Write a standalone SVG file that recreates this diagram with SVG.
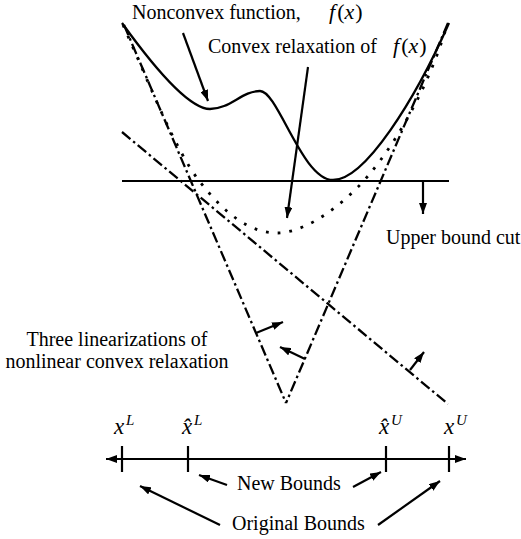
<svg xmlns="http://www.w3.org/2000/svg" width="521" height="539" viewBox="0 0 521 539" font-family="'Liberation Serif', 'DejaVu Serif', serif">
<style>
  text { font-family: "Liberation Serif", "DejaVu Serif", serif; font-size: 20px; fill: #000; }
  .m { font-style: italic; }
  .mx { font-style: italic; font-size: 23px; }
  .sup { font-style: italic; font-size: 15px; }
  .solid { fill: none; stroke: #000; stroke-width: 2.3; }
  .thin { fill: none; stroke: #000; stroke-width: 2.2; }
  .dd { fill: none; stroke: #000; stroke-width: 2.3; stroke-dasharray: 11 3.5 2.5 3.5; }
  .dot { fill: none; stroke: #000; stroke-width: 2.8; stroke-dasharray: 2.8 9; }
  .arr { fill: none; stroke: #000; stroke-width: 2.2; marker-end: url(#ah); }
</style>
<defs>
  <marker id="ah" markerUnits="userSpaceOnUse" markerWidth="11" markerHeight="8" refX="11" refY="4" orient="auto-start-reverse">
    <path d="M0,0 L11,4 L0,8 z" fill="#000"/>
  </marker>
</defs>
<rect width="521" height="539" fill="#fff"/>

<g id="curves">
  <path id="nonconvex" class="solid" d="M122,23 C140,48 185,109 210,109 C230,109 242,91 260,91 C278,91 302,180 333,180 C365,180 415,100 449,23"/>
  <path id="relaxation" class="dot" d="M123,25 C150,85 175,150 200,182 C225,214 250,233 277,233 C300,233 330,215 357,188 C384,161 425,100 447,25"/>
  <line id="upper-bound" class="thin" x1="122" y1="181" x2="449" y2="181"/>
  <line id="lin1" class="dd" x1="124" y1="25" x2="286" y2="403"/>
  <line id="lin2" class="dd" x1="448" y1="23" x2="286" y2="403"/>
  <line id="lin3" class="dd" x1="122" y1="132" x2="448" y2="404"/>
</g>

<g id="connectors">
  <line class="arr" x1="183" y1="33" x2="208" y2="101"/>
  <line class="arr" x1="308" y1="67" x2="287" y2="218"/>
  <line class="arr" x1="423" y1="181" x2="423" y2="214"/>
  <line class="arr" x1="256" y1="333" x2="283" y2="322"/>
  <line class="arr" x1="305" y1="359" x2="280" y2="347"/>
  <line class="arr" x1="410" y1="370" x2="424" y2="352"/>
  <line class="arr" x1="227" y1="485" x2="199" y2="475"/>
  <line class="arr" x1="353" y1="487" x2="381" y2="472"/>
  <line class="arr" x1="220" y1="525" x2="140" y2="486"/>
  <line class="arr" x1="378" y1="525" x2="440" y2="481"/>
</g>

<g id="number-line">
  <line class="thin" x1="106" y1="459" x2="466" y2="459" marker-start="url(#ah)" marker-end="url(#ah)"/>
  <line class="thin" x1="122" y1="446" x2="122" y2="472"/>
  <line class="thin" x1="188" y1="446" x2="188" y2="472"/>
  <line class="thin" x1="386" y1="446" x2="386" y2="472"/>
  <line class="thin" x1="449" y1="446" x2="449" y2="472"/>
</g>

<g id="label-nonconvex">
  <text x="132" y="19">Nonconvex function,</text>
  <text x="329" y="19" style="font-size:22px"><tspan class="m">f</tspan><tspan dx="2">(</tspan><tspan class="m">x</tspan><tspan dx="1">)</tspan></text>
</g>
<g id="label-relaxation">
  <text x="208" y="53">Convex relaxation of</text>
  <text x="393" y="53" style="font-size:22px"><tspan class="m">f</tspan><tspan dx="2">(</tspan><tspan class="m">x</tspan><tspan dx="1">)</tspan></text>
</g>
<g id="label-cut">
  <text x="386" y="244">Upper bound cut</text>
</g>
<g id="label-linearizations">
  <text x="117" y="346" text-anchor="middle">Three linearizations of</text>
  <text x="117" y="368" text-anchor="middle">nonlinear convex relaxation</text>
</g>
<g id="label-xL"><text x="114" y="434" class="mx">x</text><text x="126" y="425" class="sup">L</text></g>
<g id="label-xhatL"><text x="182" y="434" class="mx">x̂</text><text x="194" y="425" class="sup">L</text></g>
<g id="label-xhatU"><text x="379" y="434" class="mx">x̂</text><text x="391" y="425" class="sup">U</text></g>
<g id="label-xU"><text x="444" y="434" class="mx">x</text><text x="456" y="425" class="sup">U</text></g>
<g id="label-new"><text x="237" y="490">New Bounds</text></g>
<g id="label-original"><text x="232" y="530">Original Bounds</text></g>
</svg>
